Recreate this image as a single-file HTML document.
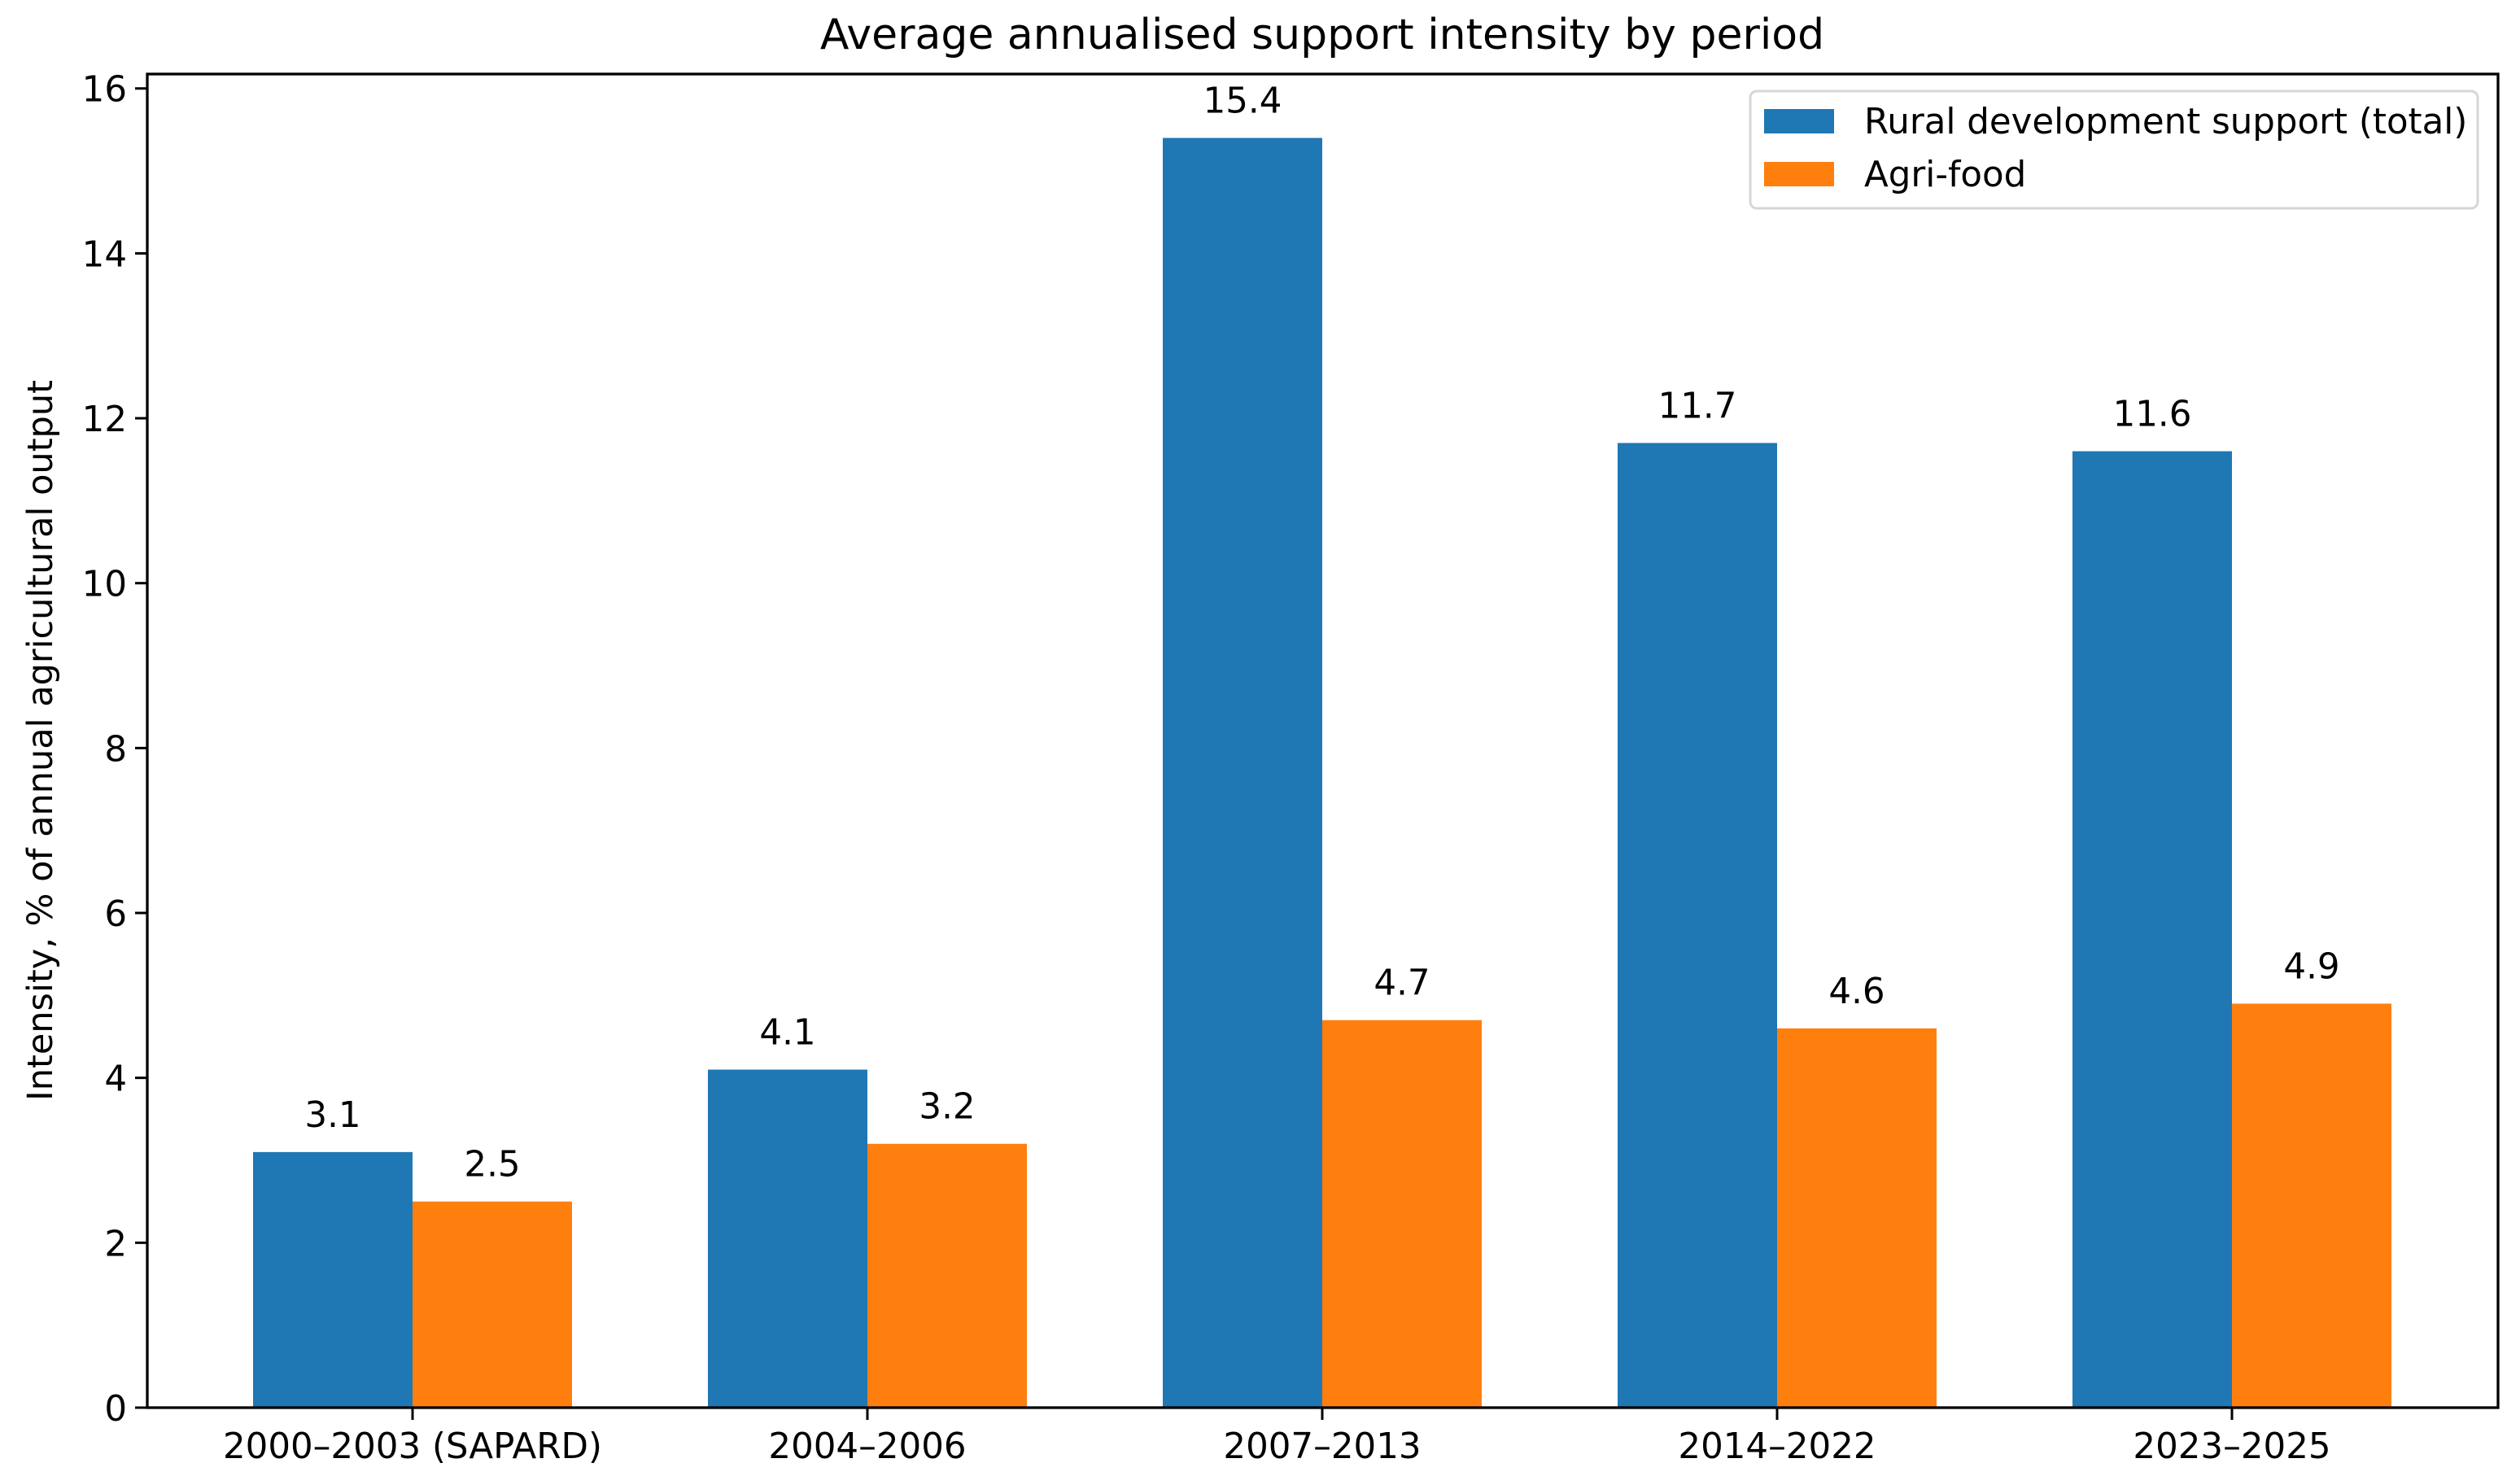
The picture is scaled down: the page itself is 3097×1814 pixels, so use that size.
<!DOCTYPE html>
<html><head><meta charset="utf-8"><style>
html,body{margin:0;padding:0;background:#fff;}
svg{display:block;font-family:"DejaVu Sans","Liberation Sans",sans-serif;}
</style></head><body>
<svg id="chart" width="3097" height="1814" viewBox="0 0 3097 1814">
<rect width="3097" height="1814" fill="#fff"/>
<text x="1625" y="60" font-size="52" text-anchor="middle" fill="#000">Average annualised support intensity by period</text>
<text transform="translate(64,910) rotate(-90)" font-size="43" text-anchor="middle" fill="#000">Intensity, % of annual agricultural output</text>
<g id="bars"></g>
<g id="axes"></g>
<g>
<rect x="2151" y="112" width="894" height="144" rx="8" fill="#fff" stroke="#d6d6d6" stroke-width="3"/>
<rect x="2168" y="134" width="86" height="30" fill="#1f77b4"/>
<text x="2291" y="164" font-size="43.5" fill="#000">Rural development support (total)</text>
<rect x="2168" y="199" width="86" height="30" fill="#ff7f0e"/>
<text x="2291" y="229" font-size="43.5" fill="#000">Agri-food</text>
</g>
</svg>
<script>
const categories = ["2000–2003 (SAPARD)", "2004–2006", "2007–2013", "2014–2022", "2023–2025"];
const ruralValues = [3.1, 4.1, 15.4, 11.7, 11.6];
const agriValues = [2.5, 3.2, 4.7, 4.6, 4.9];
const yTicks = [0, 2, 4, 6, 8, 10, 12, 14, 16];

const NS = "http://www.w3.org/2000/svg";
const L = 181, R = 3070, T = 91, B = 1730;
const unit = 101.33;
const y = v => B - v * unit;
const step = 559, x0 = 507, bw = 196;
const xc = i => x0 + i * step;

function mk(tag, attrs, parent, text) {
  const e = document.createElementNS(NS, tag);
  for (const k in attrs) e.setAttribute(k, attrs[k]);
  if (text !== undefined) e.textContent = text;
  parent.appendChild(e);
  return e;
}
const bars = document.getElementById("bars");
const axes = document.getElementById("axes");

categories.forEach((c, i) => {
  const series = [[ruralValues[i], "#1f77b4", xc(i) - bw, "rural"], [agriValues[i], "#ff7f0e", xc(i), "agrifood"]];
  series.forEach(s => {
    const r = mk("rect", {x: s[2], y: y(s[0]), width: bw, height: B - y(s[0]), fill: s[1]}, bars);
    
    
    const t = mk("text", {x: s[2] + bw / 2, y: y(s[0]) - 31, "font-size": 43.5, "text-anchor": "middle", fill: "#000"}, bars, s[0].toFixed(1));
    
    
  });
  const tk = mk("line", {x1: xc(i), x2: xc(i), y1: B, y2: B + 15, stroke: "#000", "stroke-width": 3}, axes);
  
  
  const tl = mk("text", {x: xc(i), y: B + 62, "font-size": 43.5, "text-anchor": "middle", fill: "#000"}, axes, c);
  
  
});

yTicks.forEach(v => {
  const tk = mk("line", {x1: L - 15, x2: L, y1: y(v), y2: y(v), stroke: "#000", "stroke-width": 3}, axes);
  
  
  const tl = mk("text", {x: L - 25, y: y(v) + 16, "font-size": 43.5, "text-anchor": "end", fill: "#000"}, axes, String(v));
  
  
});

const frame = mk("rect", {x: L, y: T, width: R - L, height: B - T, fill: "none", stroke: "#000", "stroke-width": 3.3}, axes);


</script>
</body></html>
